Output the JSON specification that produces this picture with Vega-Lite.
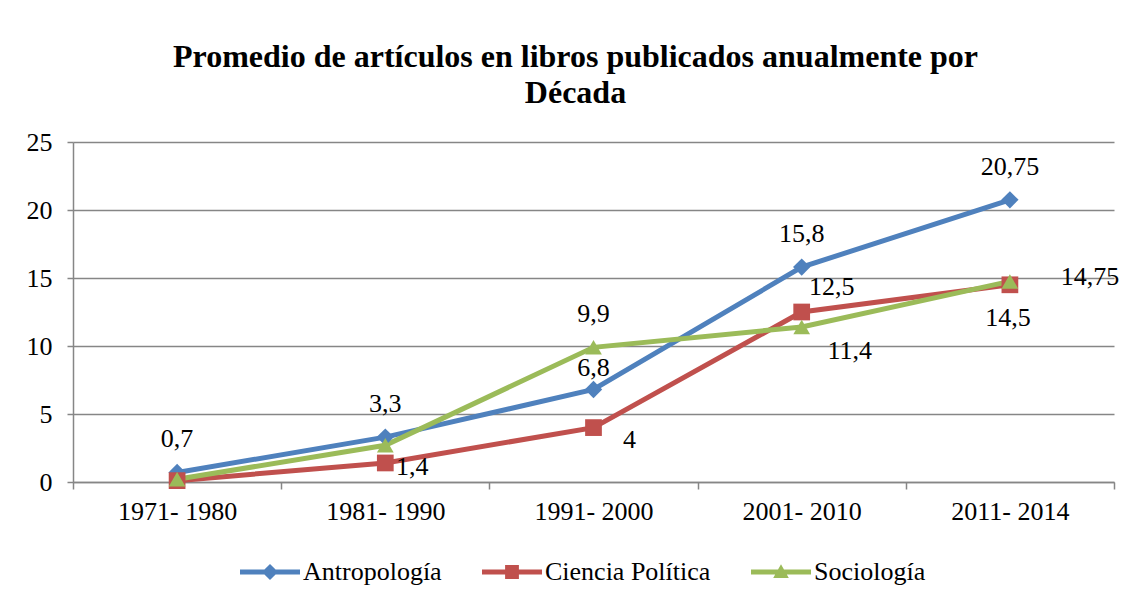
{
  "$schema": "https://vega.github.io/schema/vega-lite/v6.json",
  "width": 1041,
  "height": 340,
  "autosize": {"type": "none"},
  "padding": {"left": 73, "top": 142, "right": 16, "bottom": 119},
  "background": "white",
  "title": {
    "text": ["Promedio de artículos en libros publicados anualmente por", "Década"],
    "font": "Liberation Serif",
    "fontSize": 32,
    "fontWeight": "bold",
    "color": "black",
    "anchor": "middle",
    "lineHeight": 36,
    "offset": 19,
    "dx": -18
  },
  "data": {
    "values": [
      {"decada": "1971- 1980", "serie": "Antropología", "valor": 0.7, "etiqueta": "0,7"},
      {"decada": "1981- 1990", "serie": "Antropología", "valor": 3.3, "etiqueta": "3,3"},
      {"decada": "1991- 2000", "serie": "Antropología", "valor": 6.8, "etiqueta": "6,8"},
      {"decada": "2001- 2010", "serie": "Antropología", "valor": 15.8, "etiqueta": "15,8"},
      {"decada": "2011- 2014", "serie": "Antropología", "valor": 20.75, "etiqueta": "20,75"},
      {"decada": "1971- 1980", "serie": "Ciencia Política", "valor": 0.1, "etiqueta": ""},
      {"decada": "1981- 1990", "serie": "Ciencia Política", "valor": 1.4, "etiqueta": "1,4"},
      {"decada": "1991- 2000", "serie": "Ciencia Política", "valor": 4, "etiqueta": "4"},
      {"decada": "2001- 2010", "serie": "Ciencia Política", "valor": 12.5, "etiqueta": "12,5"},
      {"decada": "2011- 2014", "serie": "Ciencia Política", "valor": 14.5, "etiqueta": "14,5"},
      {"decada": "1971- 1980", "serie": "Sociología", "valor": 0.2, "etiqueta": ""},
      {"decada": "1981- 1990", "serie": "Sociología", "valor": 2.7, "etiqueta": ""},
      {"decada": "1991- 2000", "serie": "Sociología", "valor": 9.9, "etiqueta": "9,9"},
      {"decada": "2001- 2010", "serie": "Sociología", "valor": 11.4, "etiqueta": "11,4"},
      {"decada": "2011- 2014", "serie": "Sociología", "valor": 14.75, "etiqueta": "14,75"}
    ]
  },
  "encoding": {
    "x": {
      "field": "decada", "type": "nominal", "sort": null,
      "scale": {"type": "band", "paddingInner": 0, "paddingOuter": 0},
      "axis": {
        "title": null, "labelAngle": 0, "tickBand": "extent", "tickSize": 7,
        "labelPadding": 9, "grid": false
      }
    },
    "y": {
      "field": "valor", "type": "quantitative",
      "scale": {"domain": [0, 25], "nice": false},
      "axis": {"title": null, "values": [0, 5, 10, 15, 20, 25], "tickSize": 6, "labelPadding": 15, "grid": true}
    }
  },
  "resolve": {"legend": {"color": "independent", "shape": "independent"}},
  "layer": [
    {
      "mark": {"type": "line", "strokeWidth": 5},
      "encoding": {
        "color": {
          "field": "serie", "type": "nominal",
          "scale": {"domain": ["Antropología", "Ciencia Política", "Sociología"], "range": ["#4F81BD", "#C0504D", "#9BBB59"]},
          "legend": null
        }
      }
    },
    {
      "transform": [{"filter": "datum.serie === 'Antropología'"}],
      "mark": {"type": "point", "shape": "diamond", "filled": true, "opacity": 1, "size": 300, "color": "#4F81BD"}
    },
    {
      "transform": [{"filter": "datum.serie === 'Ciencia Política'"}],
      "mark": {"type": "point", "shape": "square", "filled": true, "opacity": 1, "size": 280, "color": "#C0504D"}
    },
    {
      "transform": [{"filter": "datum.serie === 'Sociología'"}],
      "mark": {"type": "point", "shape": "triangle-up", "filled": true, "opacity": 1, "size": 280, "color": "#9BBB59"}
    },
    {
      "mark": {"type": "point", "filled": true, "opacity": 0},
      "encoding": {
        "shape": {
          "field": "serie", "type": "nominal",
          "scale": {
            "domain": ["Antropología", "Ciencia Política", "Sociología"],
            "range": [
              "M-1,-0.085H1V0.085H-1Z M0,-0.27L0.27,0L0,0.27L-0.27,0Z",
              "M-1,-0.085H1V0.085H-1Z M-0.23,-0.23H0.23V0.23H-0.23Z",
              "M-1,-0.085H1V0.085H-1Z M0,-0.26L0.26,0.2H-0.26Z"
            ]
          },
          "legend": {
            "title": null, "orient": "none", "direction": "horizontal",
            "legendX": 167, "legendY": 400,
            "symbolSize": 3600, "symbolOpacity": 1, "symbolStrokeWidth": 0,
            "labelFont": "Liberation Serif", "labelFontSize": 26, "labelColor": "black",
            "labelOffset": 3, "columnPadding": 40, "labelLimit": 400
          }
        },
        "color": {
          "field": "serie", "type": "nominal",
          "legend": {
            "title": null, "orient": "none", "direction": "horizontal",
            "legendX": 167, "legendY": 400,
            "symbolSize": 3600, "symbolOpacity": 1, "symbolStrokeWidth": 0,
            "labelFont": "Liberation Serif", "labelFontSize": 26, "labelColor": "black",
            "labelOffset": 3, "columnPadding": 40, "labelLimit": 400
          }
        }
      }
    },
    {
      "transform": [{"filter": "(datum.serie === 'Antropología' && datum.decada !== '1991- 2000') || (datum.serie === 'Sociología' && datum.decada === '1991- 2000')"}],
      "mark": {"type": "text", "font": "Liberation Serif", "fontSize": 26, "color": "black", "baseline": "middle", "dy": -33},
      "encoding": {"text": {"field": "etiqueta"}}
    },
    {
      "transform": [{"filter": "datum.serie === 'Antropología' && datum.decada === '1991- 2000'"}],
      "mark": {"type": "text", "font": "Liberation Serif", "fontSize": 26, "color": "black", "baseline": "middle", "dy": -22},
      "encoding": {"text": {"field": "etiqueta"}}
    },
    {
      "transform": [{"filter": "datum.serie === 'Ciencia Política' && datum.decada === '1981- 1990'"}],
      "mark": {"type": "text", "font": "Liberation Serif", "fontSize": 26, "color": "black", "baseline": "middle", "dx": 27, "dy": 4},
      "encoding": {"text": {"field": "etiqueta"}}
    },
    {
      "transform": [{"filter": "datum.serie === 'Ciencia Política' && datum.decada === '1991- 2000'"}],
      "mark": {"type": "text", "font": "Liberation Serif", "fontSize": 26, "color": "black", "baseline": "middle", "dx": 36, "dy": 12},
      "encoding": {"text": {"field": "etiqueta"}}
    },
    {
      "transform": [{"filter": "datum.serie === 'Ciencia Política' && datum.decada === '2001- 2010'"}],
      "mark": {"type": "text", "font": "Liberation Serif", "fontSize": 26, "color": "black", "baseline": "middle", "dx": 30, "dy": -25},
      "encoding": {"text": {"field": "etiqueta"}}
    },
    {
      "transform": [{"filter": "datum.serie === 'Ciencia Política' && datum.decada === '2011- 2014'"}],
      "mark": {"type": "text", "font": "Liberation Serif", "fontSize": 26, "color": "black", "baseline": "middle", "dx": -2, "dy": 33},
      "encoding": {"text": {"field": "etiqueta"}}
    },
    {
      "transform": [{"filter": "datum.serie === 'Sociología' && datum.decada === '2001- 2010'"}],
      "mark": {"type": "text", "font": "Liberation Serif", "fontSize": 26, "color": "black", "baseline": "middle", "dx": 48, "dy": 24},
      "encoding": {"text": {"field": "etiqueta"}}
    },
    {
      "transform": [{"filter": "datum.serie === 'Sociología' && datum.decada === '2011- 2014'"}],
      "mark": {"type": "text", "font": "Liberation Serif", "fontSize": 26, "color": "black", "baseline": "middle", "dx": 80, "dy": -4},
      "encoding": {"text": {"field": "etiqueta"}}
    }
  ],
  "config": {
    "font": "Liberation Serif",
    "text": {"font": "Liberation Serif"},
    "view": {"stroke": null},
    "axis": {
      "labelFont": "Liberation Serif", "labelFontSize": 26, "labelColor": "black",
      "domainColor": "#868686", "domainWidth": 1.5,
      "tickColor": "#868686", "tickWidth": 1.5,
      "gridColor": "#868686", "gridWidth": 1.5
    }
  }
}
